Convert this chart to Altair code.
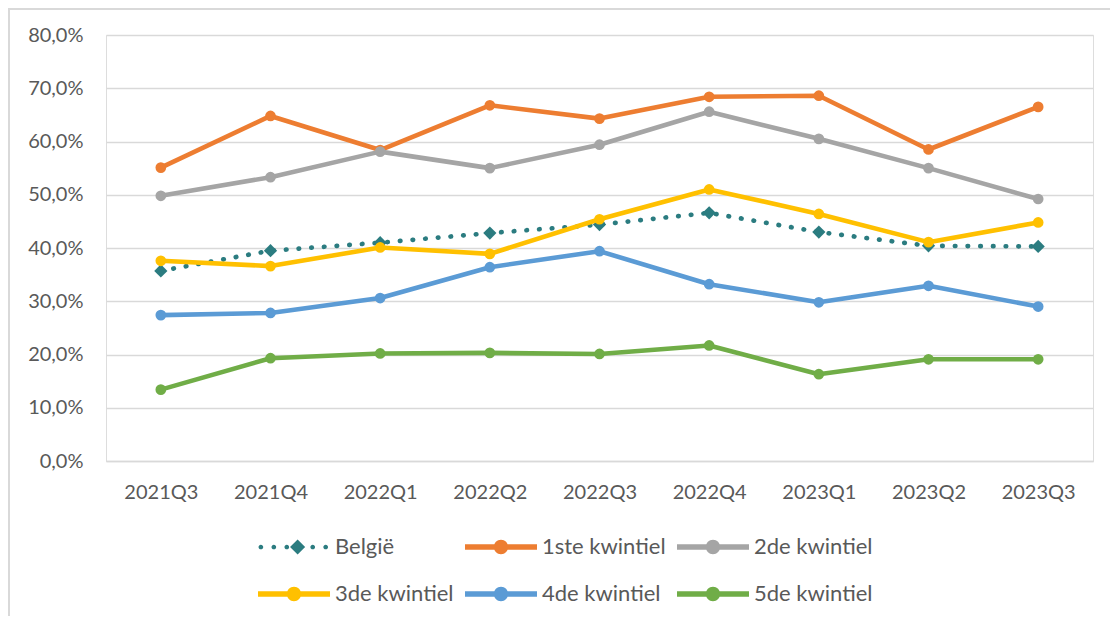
import altair as alt
import pandas as pd

quarters = ["2021Q3", "2021Q4", "2022Q1", "2022Q2", "2022Q3", "2022Q4", "2023Q1", "2023Q2", "2023Q3"]
series_names = ["België", "1ste kwintiel", "2de kwintiel", "3de kwintiel", "4de kwintiel", "5de kwintiel"]

belgie = [35.7, 39.5, 41.0, 42.8, 44.4, 46.6, 43.0, 40.4, 40.3]
kw1 = [55.1, 64.8, 58.4, 66.8, 64.3, 68.4, 68.6, 58.5, 66.5]
kw2 = [49.8, 53.3, 58.1, 55.0, 59.4, 65.6, 60.5, 55.0, 49.2]
kw3 = [37.6, 36.6, 40.1, 38.9, 45.4, 51.0, 46.4, 41.1, 44.8]
kw4 = [27.4, 27.8, 30.6, 36.4, 39.4, 33.2, 29.8, 32.9, 29.0]
kw5 = [13.4, 19.3, 20.2, 20.3, 20.1, 21.7, 16.3, 19.1, 19.1]

y_ticks = [0, 0.1, 0.2, 0.3, 0.4, 0.5, 0.6, 0.7, 0.8]

# styles
colors = ["#2B7C80", "#ED7D31", "#A5A5A5", "#FFC000", "#5B9BD5", "#70AD47"]
TEXT = "#595959"
GRID = "#D9D9D9"
FONT = "Lato"

all_values = [belgie, kw1, kw2, kw3, kw4, kw5]
rows = []
for name, vals in zip(series_names, all_values):
    for q, v in zip(quarters, vals):
        rows.append({"quarter": q, "series": name, "value": v / 100})
df = pd.DataFrame(rows)

x_enc = alt.X(
    "quarter:N",
    sort=quarters,
    scale=alt.Scale(type="point", padding=0.5),
    axis=alt.Axis(
        title=None, labelAngle=0, ticks=False, tickSize=0, grid=False,
        domain=True, domainColor=GRID, domainWidth=1.6,
        labelColor=TEXT, labelFont=FONT, labelFontSize=20, labelPadding=21,
    ),
)
y_enc = alt.Y(
    "value:Q",
    scale=alt.Scale(domain=[0, 0.8], nice=False, zero=True),
    axis=alt.Axis(
        title=None, values=y_ticks, domain=False, ticks=False, tickSize=0,
        grid=True, gridColor=GRID, gridWidth=1.6,
        labelColor=TEXT, labelFont=FONT, labelFontSize=20, labelPadding=23,
        labelExpr="replace(format(datum.value, '.1%'), '.', ',')",
    ),
)

base = alt.Chart(df)
layers = []
for i, name in enumerate(series_names):
    sub = base.transform_filter(alt.datum.series == name)
    if i == 0:
        line = sub.mark_line(color=colors[i], strokeWidth=4.7, strokeDash=[0.5, 12.2], strokeCap="round")
        pts = sub.mark_point(shape="diamond", filled=True, size=175, color=colors[i], opacity=1)
    else:
        line = sub.mark_line(color=colors[i], strokeWidth=4.6, strokeCap="round", strokeJoin="round")
        pts = sub.mark_point(shape="circle", filled=True, size=115, color=colors[i], opacity=1)
    layers.append(line.encode(x=x_enc, y=y_enc))
    layers.append(pts.encode(x=x_enc, y=y_enc))

# legend symbol paths (line + marker), unit = half of 72px symbol width
r = 0.2
h = 0.075
circle_path = (
    f"M-1,-{h} L1,-{h} L1,{h} L-1,{h} Z "
    f"M-{r},0 A{r},{r} 0 1,1 {r},0 A{r},{r} 0 1,1 -{r},0 Z"
)
d = 0.065
dots = ""
for cx in [-0.92, -0.56, -0.2, 0.52, 0.88]:
    dots += f"M{cx - d},0 A{d},{d} 0 1,1 {cx + d},0 A{d},{d} 0 1,1 {cx - d},0 Z "
dc = 0.1
dh = 0.21
diamond_path = dots + f"M{dc},-{dh} L{dc + dh},0 L{dc},{dh} L{dc - dh},0 Z"
legend_paths = [diamond_path] + [circle_path] * 5

leg = alt.Legend(
    title=None, orient="none", legendX=152, legendY=476, columns=3, direction="horizontal",
    symbolSize=5184, symbolStrokeWidth=0, labelOffset=5, columnPadding=11, rowPadding=0,
    labelColor=TEXT, labelFont=FONT, labelFontSize=22, padding=0,
)
legend_layer = base.transform_filter("false").mark_point(filled=True, opacity=1).encode(
    x=x_enc, y=y_enc,
    color=alt.Color("series:N", scale=alt.Scale(domain=series_names, range=colors), legend=leg),
    shape=alt.Shape("series:N", scale=alt.Scale(domain=series_names, range=legend_paths), legend=leg),
)

frame_data = alt.Data(values=[{"k": 1}])
frame_top = alt.Chart(frame_data).mark_rule(color=GRID, strokeWidth=2).encode(
    x=alt.value(-97), x2=alt.value(1010), y=alt.value(-26)
)
frame_left = alt.Chart(frame_data).mark_rule(color=GRID, strokeWidth=2).encode(
    x=alt.value(-97), y=alt.value(-27), y2=alt.value(585)
)

chart = alt.layer(*layers, legend_layer, frame_top, frame_left).properties(
    width=987, height=426,
    padding={"left": 98, "top": 27, "right": 17, "bottom": 155},
    autosize=alt.AutoSizeParams(type="none"),
).configure_view(stroke=None).configure(background="white")

chart.save("out.html", embed_options={"renderer": "svg", "actions": False})
